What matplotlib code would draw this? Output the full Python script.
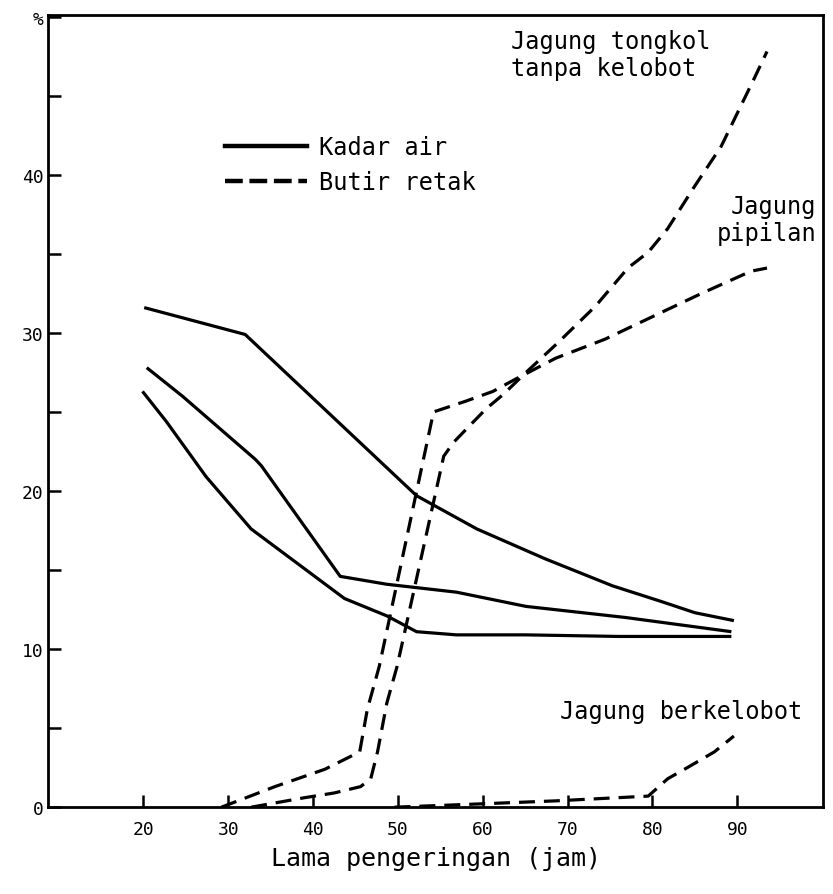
import numpy as np
import matplotlib.pyplot as plt
from matplotlib.lines import Line2D

# Kadar air (moisture content), three solid curves
ka1_x = [20.1, 32.0, 52.2, 59.3, 67.4, 75.3, 81.1, 85.0, 89.6]
ka1_y = [31.6, 29.9, 19.7, 17.6, 15.7, 14.0, 13.0, 12.3, 11.8]
ka2_x = [20.4, 24.6, 33.2, 33.9, 43.2, 48.7, 56.9, 65.1, 76.8, 89.3]
ka2_y = [27.8, 26.0, 22.0, 21.6, 14.6, 14.1, 13.6, 12.7, 12.0, 11.1]
ka3_x = [19.9, 22.7, 27.4, 32.7, 43.7, 48.7, 52.2, 56.9, 65.0, 76.0, 89.3]
ka3_y = [26.3, 24.4, 20.9, 17.6, 13.2, 12.1, 11.1, 10.9, 10.9, 10.8, 10.8]

# Butir retak (cracked kernels), dashed curves
pip_x = [29.2, 35.5, 41.4, 45.5, 46.4, 47.8, 54.2, 58.1, 61.2, 63.6, 68.6, 74.4, 79.9, 85.8, 91.6, 93.5]
pip_y = [0.0, 1.3, 2.4, 3.5, 6.2, 8.9, 25.0, 25.7, 26.3, 27.0, 28.4, 29.6, 31.0, 32.5, 33.9, 34.1]
ton_x = [32.7, 39.0, 42.5, 45.6, 46.8, 47.6, 48.7, 49.9, 55.4, 56.6, 58.4, 60.4, 62.4, 65.1,
         68.9, 73.3, 77.1, 79.5, 81.8, 85.0, 88.1, 92.0, 93.5]
ton_y = [0.0, 0.6, 0.9, 1.3, 1.8, 3.5, 6.6, 8.9, 22.2, 23.1, 24.1, 25.2, 26.1, 27.5,
         29.4, 31.7, 34.1, 35.1, 36.6, 39.3, 41.8, 46.1, 47.8]
kel_x = [49.6, 59.3, 68.6, 79.5, 81.8, 84.1, 87.3, 89.6]
kel_y = [0.0, 0.2, 0.4, 0.7, 1.8, 2.5, 3.5, 4.5]

xticks = [20, 30, 40, 50, 60, 70, 80, 90]
yticks = [0, 10, 20, 30, 40, 50]
ylabels = ['0', '10', '20', '30', '40', '%']

plt.rcParams['font.family'] = ['DejaVu Sans Mono', 'DejaVu Sans']

fig = plt.figure(figsize=(8.33, 8.95), dpi=100)
ax = fig.add_axes([0.058, 0.097, 0.93, 0.885])

lw = 2.3
dash = (0, (5, 2.8))
for xs, ys in [(ka1_x, ka1_y), (ka2_x, ka2_y), (ka3_x, ka3_y)]:
    ax.plot(xs, ys, color='black', lw=lw, solid_capstyle='butt')
for xs, ys in [(pip_x, pip_y), (ton_x, ton_y), (kel_x, kel_y)]:
    ax.plot(xs, ys, color='black', lw=lw, linestyle=dash)

ax.set_xlim(8.8, 100.1)
ax.set_ylim(0, 50.1)
ax.set_xticks(xticks)
ax.set_yticks(yticks)
ax.set_yticklabels(ylabels)
ax.set_yticks([5, 15, 25, 35, 45], minor=True)
ax.tick_params(axis='both', which='both', direction='in', length=9, width=1.8, labelsize=13)
ax.tick_params(axis='x', pad=9)
for s in ax.spines.values():
    s.set_linewidth(2)

ax.set_xlabel('Lama pengeringan (jam)', fontsize=18, labelpad=6)

handles = [Line2D([], [], color='black', lw=3.2),
           Line2D([], [], color='black', lw=3.2, linestyle=(0, (4, 1.5)))]
ax.legend(handles, ['Kadar air', 'Butir retak'], loc='upper left',
          bbox_to_anchor=(0.2, 0.875), frameon=False, fontsize=17,
          handlelength=3.5, handletextpad=0.5, labelspacing=0.45)

ax.text(63.3, 49.2, 'Jagung tongkol\ntanpa kelobot', fontsize=17, va='top', ha='left',
        linespacing=1.15)
ax.text(99.3, 38.8, 'Jagung\npipilan', fontsize=17, va='top', ha='right', linespacing=1.15)
ax.text(97.6, 6.1, 'Jagung berkelobot', fontsize=17, va='center', ha='right')

fig.savefig('out.png', dpi=100)
